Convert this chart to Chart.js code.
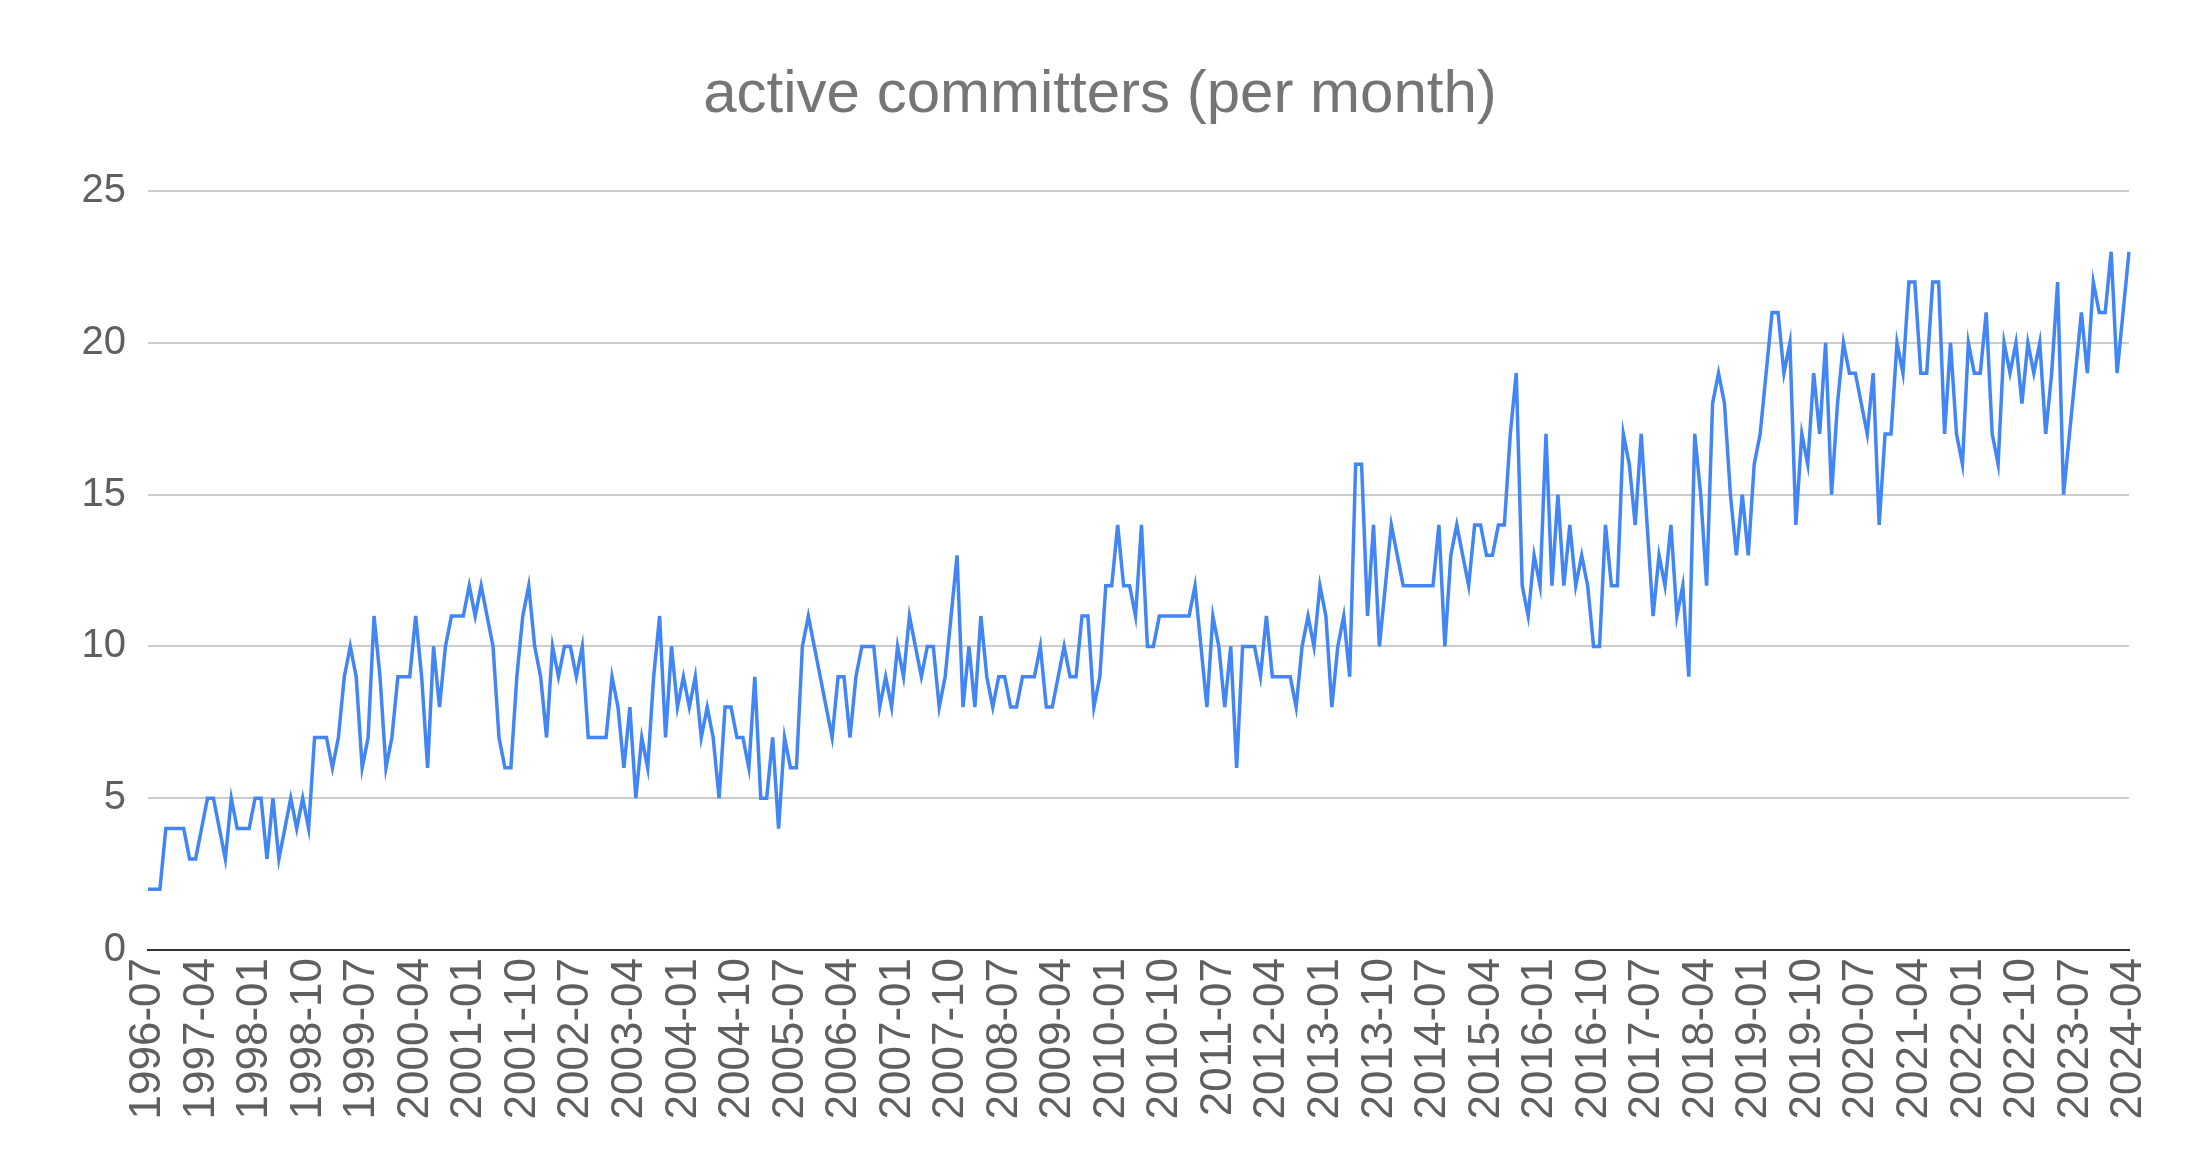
<!DOCTYPE html>
<html>
<head>
<meta charset="utf-8">
<title>active committers (per month)</title>
<script src="https://cdn.jsdelivr.net/npm/chart.js@4.4.1/dist/chart.umd.min.js"></script>
<style>
  html, body { margin: 0; padding: 0; background: #ffffff; }
  #wrap { width: 2190px; height: 1174px; }
</style>
</head>
<body>
<div id="wrap"><canvas id="committersChart" width="2190" height="1174"></canvas></div>
<script>
// months run from 1996-07 to 2024-04
const firstYear = 1996, firstMonth = 7;
const lastYear = 2024, lastMonth = 4;

// active committers per month, one row per calendar year
const committers = [
  2, 2, 2, 4, 4, 4,                          // 1996 (Jul-Dec)
  4, 3, 3, 4, 5, 5, 4, 3, 5, 4, 4, 4,        // 1997
  5, 5, 3, 5, 3, 4, 5, 4, 5, 4, 7, 7,        // 1998
  7, 6, 7, 9, 10, 9, 6, 7, 11, 9, 6, 7,      // 1999
  9, 9, 9, 11, 9, 6, 10, 8, 10, 11, 11, 11,  // 2000
  12, 11, 12, 11, 10, 7, 6, 6, 9, 11, 12, 10,// 2001
  9, 7, 10, 9, 10, 10, 9, 10, 7, 7, 7, 7,    // 2002
  9, 8, 6, 8, 5, 7, 6, 9, 11, 7, 10, 8,      // 2003
  9, 8, 9, 7, 8, 7, 5, 8, 8, 7, 7, 6,        // 2004
  9, 5, 5, 7, 4, 7, 6, 6, 10, 11, 10, 9,     // 2005
  8, 7, 9, 9, 7, 9, 10, 10, 10, 8, 9, 8,     // 2006
  10, 9, 11, 10, 9, 10, 10, 8, 9, 11, 13, 8, // 2007
  10, 8, 11, 9, 8, 9, 9, 8, 8, 9, 9, 9,      // 2008
  10, 8, 8, 9, 10, 9, 9, 11, 11, 8, 9, 12,   // 2009
  12, 14, 12, 12, 11, 14, 10, 10, 11, 11, 11, 11, // 2010
  11, 11, 12, 10, 8, 11, 10, 8, 10, 6, 10, 10,    // 2011
  10, 9, 11, 9, 9, 9, 9, 8, 10, 11, 10, 12,       // 2012
  11, 8, 10, 11, 9, 16, 16, 11, 14, 10, 12, 14,   // 2013
  13, 12, 12, 12, 12, 12, 12, 14, 10, 13, 14, 13, // 2014
  12, 14, 14, 13, 13, 14, 14, 17, 19, 12, 11, 13, // 2015
  12, 17, 12, 15, 12, 14, 12, 13, 12, 10, 10, 14, // 2016
  12, 12, 17, 16, 14, 17, 14, 11, 13, 12, 14, 11, // 2017
  12, 9, 17, 15, 12, 18, 19, 18, 15, 13, 15, 13,  // 2018
  16, 17, 19, 21, 21, 19, 20, 14, 17, 16, 19, 17, // 2019
  20, 15, 18, 20, 19, 19, 18, 17, 19, 14, 17, 17, // 2020
  20, 19, 22, 22, 19, 19, 22, 22, 17, 20, 17, 16, // 2021
  20, 19, 19, 21, 17, 16, 20, 19, 20, 18, 20, 19, // 2022
  20, 17, 19, 22, 15, 17, 19, 21, 19, 22, 21, 21, // 2023
  23, 19, 21, 23                                  // 2024 (Jan-Apr)
];

// labels shown on the x axis (every 9 months)
const tickLabels = [
  '1996-07', '1997-04', '1998-01', '1998-10', '1999-07', '2000-04', '2001-01', '2001-10',
  '2002-07', '2003-04', '2004-01', '2004-10', '2005-07', '2006-04', '2007-01', '2007-10',
  '2008-07', '2009-04', '2010-01', '2010-10', '2011-07', '2012-04', '2013-01', '2013-10',
  '2014-07', '2015-04', '2016-01', '2016-10', '2017-07', '2018-04', '2019-01', '2019-10',
  '2020-07', '2021-04', '2022-01', '2022-10', '2023-07', '2024-04'
];

const yTicks = [0, 5, 10, 15, 20, 25];

// month categories
const months = [];
for (let y = firstYear, m = firstMonth; y < lastYear || (y === lastYear && m <= lastMonth); ) {
  months.push(y + '-' + (m < 10 ? '0' + m : m));
  m++;
  if (m > 12) { m = 1; y++; }
}

const fontFamily = '"Liberation Sans", Arial, sans-serif';

document.addEventListener('DOMContentLoaded', function() {
  var ctx = document.getElementById('committersChart').getContext('2d');

  new Chart(ctx, {
    type: 'line',
    data: {
      labels: months,
      datasets: [{
        label: 'active committers',
        data: committers,
        borderColor: '#4285f4',
        borderWidth: 3.5,
        pointRadius: 0,
        tension: 0,
        fill: false
      }]
    },
    options: {
      responsive: false,
      animation: false,
      devicePixelRatio: 1,
      layout: {
        padding: { left: 10, right: 0, top: 0, bottom: 0 }
      },
      plugins: {
        legend: { display: false },
        tooltip: { enabled: false },
        title: {
          display: true,
          text: 'active committers (per month)',
          color: '#757575',
          font: { family: fontFamily, size: 60, weight: 'normal', lineHeight: 1.2 },
          padding: { top: 59, bottom: 60 }
        }
      },
      scales: {
        x: {
          grid: { display: false, drawTicks: false },
          border: { display: true, color: '#333333', width: 2 },
          ticks: {
            autoSkip: false,
            minRotation: 90,
            maxRotation: 90,
            padding: 8,
            color: '#5f5f5f',
            font: { family: fontFamily, size: 44 }
          },
          afterBuildTicks: function(scale) {
            scale.ticks = scale.ticks.filter(function(t) {
              return tickLabels.indexOf(months[t.value]) !== -1;
            });
          },
          afterFit: function(scale) { scale.height = 224; }
        },
        y: {
          min: 0,
          max: 25,
          afterBuildTicks: function(scale) {
            scale.ticks = yTicks.map(function(v) { return { value: v }; });
          },
          ticks: {
            padding: 22,
            color: '#5f5f5f',
            font: { family: fontFamily, size: 40 }
          },
          grid: {
            drawTicks: false,
            lineWidth: 2,
            color: function(c) { return c.tick && c.tick.value === 0 ? '#333333' : '#cccccc'; }
          },
          border: { display: false },
          afterFit: function(scale) { scale.width = 138; }
        },
        // empty right-hand axis, only reserves the margin right of the plot
        yRight: {
          position: 'right',
          grid: { display: false, drawTicks: false },
          border: { display: false },
          ticks: { display: false },
          afterFit: function(scale) { scale.width = 61; }
        }
      }
    }
  });
});
</script>
</body>
</html>
